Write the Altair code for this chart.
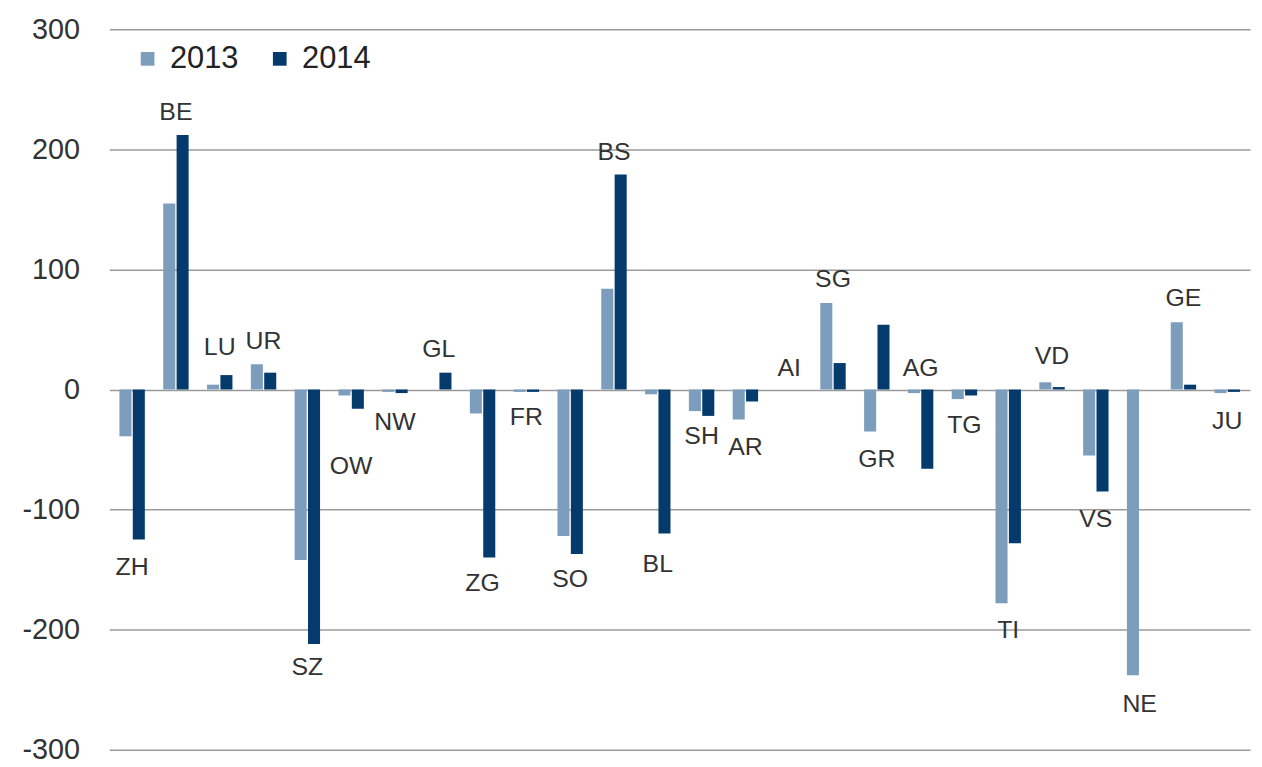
import altair as alt
import pandas as pd

cantons = ["ZH", "BE", "LU", "UR", "SZ", "OW", "NW", "GL", "ZG", "FR", "SO", "BS", "BL",
           "SH", "AR", "AI", "SG", "GR", "AG", "TG", "TI", "VD", "VS", "NE", "GE", "JU"]
values_2013 = [-39, 155, 4, 21, -142, -5, -2, 0, -20, -2, -122, 84, -4,
               -18, -25, 0, 72, -35, -3, -8, -178, 6, -55, -238, 56, -3]
values_2014 = [-125, 212, 12, 14, -212, -16, -3, 14, -140, -2, -137, 179, -120,
               -22, -10, 0, 22, 54, -66, -5, -128, 2, -85, 0, 4, -2]
# where each canton's name sits, in value units
label_at = [-148, 231, 35, 40, -231, -64, -27, 34, -161, -23, -158, 198, -145,
            -39, -48, 18, 92, -58, 18, -30, -200, 28, -108, -262, 76, -26]
years = ["2013", "2014"]
y_ticks = [-300, -200, -100, 0, 100, 200, 300]

rows = []
for c, v13, v14 in zip(cantons, values_2013, values_2014):
    rows.append({"canton": c, "year": "2013", "value": v13})
    rows.append({"canton": c, "year": "2014", "value": v14})
bars_df = pd.DataFrame(rows)
labels_df = pd.DataFrame({"canton": cantons, "pos": label_at})

FONT = "Liberation Sans"

x_enc = alt.X("canton:N", sort=cantons, axis=None,
              scale=alt.Scale(paddingInner=0.42, paddingOuter=0.23))
y_scale = alt.Scale(domain=[-300, 300], nice=False)

bars = alt.Chart(bars_df).mark_bar().encode(
    x=x_enc,
    xOffset=alt.XOffset("year:N", sort=years, scale=alt.Scale(paddingInner=0.1)),
    y=alt.Y("value:Q", scale=y_scale,
            axis=alt.Axis(values=y_ticks, title=None, grid=True, domain=False,
                          ticks=False, labelFontSize=29, labelFont=FONT,
                          labelColor="#333333", labelPadding=30,
                          labelExpr="datum.value < 0 ? '-' + abs(datum.value) : '' + datum.value",
                          gridColor="#9a9a9a", gridWidth=1.5)),
    color=alt.Color("year:N", sort=years,
                    scale=alt.Scale(domain=years, range=["#7d9dbd", "#053a6c"]),
                    legend=alt.Legend(title=None, orient="none", legendX=23, legendY=14,
                                      direction="horizontal", symbolType="square",
                                      symbolSize=190, symbolStrokeWidth=0,
                                      labelFontSize=31, labelFont=FONT,
                                      labelColor="#222222", columnPadding=26,
                                      labelOffset=7)),
)

labels = alt.Chart(labels_df).mark_text(font=FONT, fontSize=25, color="#333333",
                                        baseline="middle", align="center").encode(
    x=x_enc,
    y=alt.Y("pos:Q", scale=y_scale),
    text="canton:N",
)

chart = alt.layer(bars, labels).properties(
    width=1148, height=725,
    autosize=alt.AutoSizeParams(type="none"),
    padding={"left": 102, "top": 19, "right": 4, "bottom": 14},
).configure_view(stroke=None)

chart.save("out.html", embed_options={"renderer": "svg", "actions": False})
